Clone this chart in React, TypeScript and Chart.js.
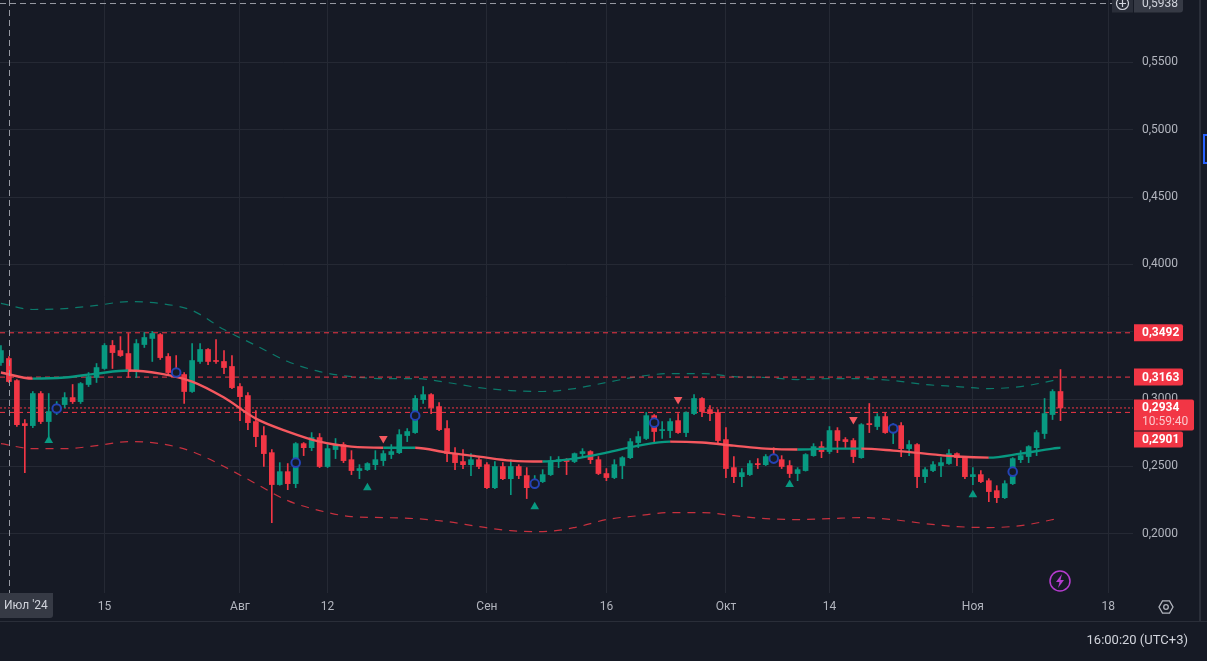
import React, { useEffect, useRef } from 'react';
import { Chart, registerables } from 'chart.js';

Chart.register(...registerables);

// ---------- data ----------
// day index = days since 2024-07-01 ; first candle is 2 Jul 2024
const firstDay = 1;

const opens = [
  // Jul 2..31
  0.3271, 0.3301, 0.3137, 0.2818, 0.2803, 0.3041, 0.2833, 0.2907, 0.2959, 0.3011, 0.2981, 0.3108, 0.3160, 0.3227, 0.3398,
  0.3360, 0.3338, 0.3204, 0.3405, 0.3450, 0.3479, 0.3316, 0.3197, 0.3182, 0.3056, 0.3279, 0.3368, 0.3286, 0.3279, 0.3242,
  // Aug
  0.3093, 0.3026, 0.2833, 0.2729, 0.2602, 0.2365, 0.2461, 0.2372, 0.2669, 0.2639, 0.2714, 0.2499, 0.2625, 0.2662, 0.2550, 0.2469,
  0.2476, 0.2513, 0.2543, 0.2588, 0.2602, 0.2729, 0.2751, 0.2996, 0.3033, 0.2944, 0.2781, 0.2595, 0.2536, 0.2513, 0.2550,
  // Sep
  0.2513, 0.2342, 0.2499, 0.2409, 0.2499, 0.2432, 0.2342, 0.2387, 0.2439, 0.2536, 0.2550, 0.2536, 0.2595, 0.2610, 0.2550,
  0.2447, 0.2417, 0.2506, 0.2565, 0.2677, 0.2707, 0.2877, 0.2766, 0.2766, 0.2840, 0.2751, 0.2892, 0.3004, 0.2922, 0.2900,
  // Oct
  0.2699, 0.2491, 0.2424, 0.2439, 0.2521, 0.2513, 0.2573, 0.2550, 0.2506, 0.2447, 0.2469, 0.2580, 0.2647, 0.2610, 0.2766, 0.2699,
  0.2692, 0.2565, 0.2818, 0.2796, 0.2870, 0.2751, 0.2803, 0.2632, 0.2662, 0.2424, 0.2469, 0.2506, 0.2521, 0.2595, 0.2565,
  // Nov 1..12
  0.2424, 0.2439, 0.2394, 0.2320, 0.2268, 0.2372, 0.2550, 0.2573, 0.2639, 0.2744, 0.2885, 0.3056,
];
const highs = [
  0.3398, 0.3316, 0.3145, 0.2848, 0.3056, 0.3056, 0.3041, 0.2981, 0.3048, 0.3108, 0.3123, 0.3197, 0.3264, 0.3412, 0.3435,
  0.3464, 0.3487, 0.3442, 0.3494, 0.3502, 0.3487, 0.3338, 0.3323, 0.3197, 0.3412, 0.3412, 0.3375, 0.3442, 0.3360, 0.3323,
  0.3115, 0.3048, 0.2915, 0.2796, 0.2625, 0.2528, 0.2521, 0.2677, 0.2677, 0.2751, 0.2744, 0.2669, 0.2707, 0.2677, 0.2617, 0.2513,
  0.2528, 0.2617, 0.2617, 0.2662, 0.2773, 0.2781, 0.3026, 0.3093, 0.3040, 0.2974, 0.2840, 0.2639, 0.2625, 0.2595, 0.2565,
  0.2528, 0.2536, 0.2528, 0.2550, 0.2513, 0.2491, 0.2432, 0.2476, 0.2573, 0.2573, 0.2558, 0.2600, 0.2632, 0.2617, 0.2573,
  0.2484, 0.2550, 0.2573, 0.2707, 0.2759, 0.2900, 0.2885, 0.2833, 0.2855, 0.2892, 0.2905, 0.3033, 0.3011, 0.2952, 0.2922,
  0.2788, 0.2573, 0.2484, 0.2543, 0.2558, 0.2588, 0.2639, 0.2580, 0.2543, 0.2491, 0.2595, 0.2669, 0.2684, 0.2796, 0.2788, 0.2714,
  0.2707, 0.2818, 0.2967, 0.2892, 0.2900, 0.2818, 0.2825, 0.2692, 0.2669, 0.2491, 0.2536, 0.2565, 0.2625, 0.2600, 0.2573,
  0.2491, 0.2469, 0.2409, 0.2357, 0.2394, 0.2565, 0.2617, 0.2654, 0.2766, 0.3004, 0.3070, 0.3219,
];
const lows = [
  0.3249, 0.3123, 0.2796, 0.2454, 0.2788, 0.2818, 0.2721, 0.2885, 0.2937, 0.2967, 0.2967, 0.3093, 0.3123, 0.3220, 0.3227,
  0.3316, 0.3160, 0.3160, 0.3383, 0.3279, 0.3294, 0.3175, 0.3160, 0.2967, 0.3050, 0.3264, 0.3256, 0.3264, 0.3189, 0.3078,
  0.2840, 0.2773, 0.2647, 0.2499, 0.2082, 0.2360, 0.2327, 0.2342, 0.2580, 0.2617, 0.2491, 0.2491, 0.2558, 0.2528, 0.2439, 0.2409,
  0.2469, 0.2476, 0.2506, 0.2558, 0.2595, 0.2684, 0.2745, 0.2967, 0.2892, 0.2766, 0.2536, 0.2476, 0.2484, 0.2432, 0.2484,
  0.2335, 0.2335, 0.2402, 0.2290, 0.2409, 0.2261, 0.2335, 0.2380, 0.2432, 0.2491, 0.2439, 0.2528, 0.2565, 0.2521, 0.2439,
  0.2394, 0.2409, 0.2409, 0.2558, 0.2639, 0.2699, 0.2684, 0.2707, 0.2714, 0.2744, 0.2721, 0.2885, 0.2870, 0.2840, 0.2669,
  0.2417, 0.2380, 0.2350, 0.2432, 0.2484, 0.2506, 0.2528, 0.2484, 0.2417, 0.2394, 0.2465, 0.2575, 0.2565, 0.2595, 0.2602, 0.2639,
  0.2528, 0.2560, 0.2751, 0.2773, 0.2745, 0.2669, 0.2573, 0.2580, 0.2342, 0.2380, 0.2461, 0.2424, 0.2515, 0.2506, 0.2409,
  0.2365, 0.2380, 0.2238, 0.2231, 0.2261, 0.2365, 0.2528, 0.2528, 0.2580, 0.2707, 0.2848, 0.2840,
];
const closes = [
  0.3360, 0.3130, 0.2810, 0.2803, 0.3041, 0.2833, 0.2907, 0.2959, 0.3011, 0.2981, 0.3115, 0.3167, 0.3234, 0.3398, 0.3345,
  0.3323, 0.3204, 0.3412, 0.3457, 0.3487, 0.3308, 0.3197, 0.3182, 0.3056, 0.3286, 0.3368, 0.3279, 0.3279, 0.3234, 0.3085,
  0.3018, 0.2825, 0.2721, 0.2595, 0.2365, 0.2461, 0.2372, 0.2669, 0.2639, 0.2714, 0.2499, 0.2632, 0.2662, 0.2543, 0.2469, 0.2484,
  0.2521, 0.2550, 0.2595, 0.2610, 0.2736, 0.2759, 0.3004, 0.3033, 0.2937, 0.2773, 0.2595, 0.2528, 0.2513, 0.2550, 0.2499,
  0.2342, 0.2499, 0.2409, 0.2499, 0.2432, 0.2342, 0.2387, 0.2439, 0.2543, 0.2550, 0.2536, 0.2595, 0.2610, 0.2550, 0.2447,
  0.2417, 0.2513, 0.2565, 0.2684, 0.2721, 0.2877, 0.2759, 0.2773, 0.2833, 0.2751, 0.2900, 0.3004, 0.2907, 0.2892, 0.2692,
  0.2484, 0.2424, 0.2454, 0.2521, 0.2513, 0.2573, 0.2550, 0.2499, 0.2447, 0.2476, 0.2588, 0.2647, 0.2610, 0.2766, 0.2692, 0.2684,
  0.2573, 0.2810, 0.2810, 0.2870, 0.2751, 0.2803, 0.2632, 0.2662, 0.2424, 0.2476, 0.2513, 0.2528, 0.2595, 0.2565, 0.2424,
  0.2439, 0.2387, 0.2313, 0.2268, 0.2372, 0.2558, 0.2580, 0.2647, 0.2751, 0.2892, 0.3056, 0.2934,
];

// smooth indicator (read at these day indexes)
const curveDays = [1, 5, 9, 13, 17, 21, 25, 29, 33, 37, 41, 45, 49, 53, 57, 61, 65, 69, 73, 77, 81, 85, 89, 93, 97, 101, 105, 109, 113, 117, 121, 125, 129, 133, 134];
const basisValues = [0.3197, 0.3152, 0.3160, 0.3189, 0.3212, 0.3189, 0.3130, 0.3011, 0.2855, 0.2759, 0.2684, 0.2647, 0.2639, 0.2639, 0.2602, 0.2573, 0.2543, 0.2536, 0.2558, 0.2602, 0.2654, 0.2684, 0.2677, 0.2654, 0.2632, 0.2625, 0.2632, 0.2632, 0.2617, 0.2595, 0.2573, 0.2565, 0.2595, 0.2632, 0.2639];
const upperValues = [0.3710, 0.3665, 0.3672, 0.3695, 0.3724, 0.3710, 0.3658, 0.3516, 0.3398, 0.3279, 0.3204, 0.3167, 0.3152, 0.3152, 0.3123, 0.3085, 0.3063, 0.3056, 0.3078, 0.3123, 0.3167, 0.3189, 0.3189, 0.3167, 0.3160, 0.3145, 0.3152, 0.3152, 0.3137, 0.3108, 0.3093, 0.3078, 0.3093, 0.3137, 0.3152];
const lowerValues = [0.2669, 0.2632, 0.2632, 0.2654, 0.2684, 0.2669, 0.2610, 0.2499, 0.2372, 0.2246, 0.2172, 0.2127, 0.2120, 0.2112, 0.2090, 0.2053, 0.2023, 0.2016, 0.2046, 0.2105, 0.2134, 0.2157, 0.2157, 0.2134, 0.2112, 0.2105, 0.2112, 0.2120, 0.2105, 0.2075, 0.2053, 0.2046, 0.2060, 0.2105, 0.2120];

// signal markers
const circleDays = [8, 23, 38, 53, 68, 83, 98, 113, 128];
const circleValues = [0.2930, 0.3197, 0.2528, 0.2877, 0.2372, 0.2825, 0.2558, 0.2781, 0.2461];
const buyDays = [7, 47, 68, 100, 123];
const buyValues = [0.2692, 0.2342, 0.2201, 0.2365, 0.2290];
const sellDays = [49, 86, 108];
const sellValues = [0.2707, 0.2996, 0.2848];

// horizontal levels
const levelValues = [0.3492, 0.3163, 0.2901];
const lastPrice = 0.2934;
const countdownText = '10:59:40';

// crosshair
const crossDay = 2;
const crossPrice = 0.5938;
const crossDateLabel = "Июл '24";
const clockText = '16:00:20 (UTC+3)';

// axes
const xTickDays = [14, 31, 42, 62, 77, 92, 105, 123, 140];
const xTickLabels = ['15', 'Авг', '12', 'Сен', '16', 'Окт', '14', 'Ноя', '18'];
const yTickValues = [0.2, 0.25, 0.3, 0.35, 0.4, 0.45, 0.5, 0.55];
const xRange = [0.883, 143.1];
const yRange = [0.156, 0.5963];

// ---------- styles ----------
const W = 1207;
const H = 661;
const BG = '#161a25';
const GRID = '#252934';
const UP = '#089981';
const DOWN = '#f23645';
const MA_DOWN = '#f5585f';
const TEXT = '#b2b5be';
const FONT = 'Roboto, "Noto Sans", sans-serif';

const fmt = (v: number) => v.toFixed(4).replace('.', ',');

export default function App() {
  const ref = useRef<HTMLCanvasElement>(null);

  useEffect(() => {
    const canvas = ref.current;
    if (!canvas) return;

    const days = opens.map((_, i) => firstDay + i);
    const colors = days.map((_, i) => (closes[i] >= opens[i] ? UP : DOWN));
    const pts = (xs: number[], ys: number[]) => xs.map((x, i) => ({ x, y: ys[i] }));
    const hline = (v: number) => [{ x: xRange[0], y: v }, { x: xRange[1], y: v }];

    const decor = {
      id: 'decor',
      beforeDraw(chart: any) {
        const ctx = chart.ctx;
        ctx.save();
        ctx.fillStyle = BG;
        ctx.fillRect(0, 0, W, H);
        ctx.restore();
      },
      afterDraw(chart: any) {
        const ctx: CanvasRenderingContext2D = chart.ctx;
        const xs = chart.scales.x;
        const ys = chart.scales.y;
        const ca = chart.chartArea;
        ctx.save();

        // crosshair
        const cx = Math.round(xs.getPixelForValue(crossDay)) + 0.5;
        const cy = Math.round(ys.getPixelForValue(crossPrice)) + 0.5;
        ctx.strokeStyle = '#9598a1';
        ctx.lineWidth = 1;
        ctx.setLineDash([6, 4]);
        ctx.beginPath();
        ctx.moveTo(cx, ca.top);
        ctx.lineTo(cx, ca.bottom);
        ctx.moveTo(ca.left, cy);
        ctx.lineTo(ca.right - 21, cy);
        ctx.stroke();
        ctx.setLineDash([]);

        ctx.textBaseline = 'middle';
        ctx.textAlign = 'left';

        // crosshair price label
        ctx.fillStyle = '#2a2e39';
        ctx.fillRect(ca.right - 21, cy - 9, 21, 18);
        ctx.strokeStyle = '#d1d4dc';
        ctx.lineWidth = 1.2;
        ctx.beginPath();
        ctx.arc(ca.right - 10.5, cy, 6, 0, Math.PI * 2);
        ctx.moveTo(ca.right - 14, cy);
        ctx.lineTo(ca.right - 7, cy);
        ctx.moveTo(ca.right - 10.5, cy - 3.5);
        ctx.lineTo(ca.right - 10.5, cy + 3.5);
        ctx.stroke();
        ctx.fillStyle = '#363a45';
        ctx.beginPath();
        (ctx as any).roundRect(ca.right + 1, cy - 9, 49, 18, [0, 3, 3, 0]);
        ctx.fill();
        ctx.fillStyle = '#d1d4dc';
        ctx.font = `12px ${FONT}`;
        ctx.fillText(fmt(crossPrice), ca.right + 9, cy + 0.5);

        // red price boxes
        const box = (top: number, h: number, w: number) => {
          ctx.fillStyle = DOWN;
          ctx.beginPath();
          (ctx as any).roundRect(ca.right + 1, top, w, h, [0, 2, 2, 0]);
          ctx.fill();
        };
        ctx.font = `bold 12px ${FONT}`;
        const yA = ys.getPixelForValue(levelValues[0]);
        box(yA - 8.5, 17, 49);
        ctx.fillStyle = '#ffffff';
        ctx.fillText(fmt(levelValues[0]), ca.right + 9, yA + 0.5);
        const yB = ys.getPixelForValue(levelValues[1]);
        box(yB - 8.5, 17, 49);
        ctx.fillStyle = '#ffffff';
        ctx.fillText(fmt(levelValues[1]), ca.right + 9, yB + 0.5);
        const yL = ys.getPixelForValue(lastPrice);
        const lastTop = yL - 8.5;
        box(lastTop, 31, 60);
        ctx.fillStyle = '#ffffff';
        ctx.fillText(fmt(lastPrice), ca.right + 9, yL + 0.5);
        ctx.fillStyle = 'rgba(255,255,255,0.72)';
        ctx.font = `12px ${FONT}`;
        ctx.fillText(countdownText, ca.right + 9, yL + 14.5);
        const yC = ys.getPixelForValue(levelValues[2]);
        const cTop = Math.max(yC - 8.5, lastTop + 32);
        box(cTop, 16, 49);
        ctx.fillStyle = '#ffffff';
        ctx.font = `bold 12px ${FONT}`;
        ctx.fillText(fmt(levelValues[2]), ca.right + 9, cTop + 8.5);

        // crosshair date label
        ctx.fillStyle = '#363a45';
        ctx.beginPath();
        (ctx as any).roundRect(0, ca.bottom, 53, 25, [0, 0, 3, 0]);
        ctx.fill();
        ctx.fillStyle = '#d1d4dc';
        ctx.font = `12px ${FONT}`;
        ctx.fillText(crossDateLabel, 4, ca.bottom + 13);

        // footer divider & clock
        ctx.fillStyle = '#2a2e39';
        ctx.fillRect(0, 621, W, 1);
        ctx.fillRect(1199, 0, 2, 621);
        ctx.fillStyle = '#d1d4dc';
        ctx.font = `13px ${FONT}`;
        ctx.textAlign = 'right';
        ctx.fillText(clockText, 1188, 641);

        // settings icon (hexagon)
        ctx.strokeStyle = TEXT;
        ctx.lineWidth = 1.3;
        ctx.beginPath();
        for (let k = 0; k < 6; k++) {
          const a = (Math.PI / 3) * k;
          const px = 1166 + 7 * Math.cos(a);
          const py = 607 + 7 * Math.sin(a);
          if (k === 0) ctx.moveTo(px, py);
          else ctx.lineTo(px, py);
        }
        ctx.closePath();
        ctx.stroke();
        ctx.beginPath();
        ctx.arc(1166, 607, 2.3, 0, Math.PI * 2);
        ctx.stroke();

        // lightning icon
        ctx.strokeStyle = '#b53ccf';
        ctx.fillStyle = '#b53ccf';
        ctx.lineWidth = 1.5;
        ctx.beginPath();
        ctx.arc(1060, 581, 10, 0, Math.PI * 2);
        ctx.stroke();
        ctx.beginPath();
        ctx.moveTo(1062, 574);
        ctx.lineTo(1056, 582);
        ctx.lineTo(1059.5, 582);
        ctx.lineTo(1058, 588);
        ctx.lineTo(1064, 580);
        ctx.lineTo(1060.5, 580);
        ctx.closePath();
        ctx.fill();

        // right side strip marker
        ctx.strokeStyle = '#2962ff';
        ctx.lineWidth = 2;
        ctx.strokeRect(1204, 135, 6, 28);

        ctx.restore();
      },
    };

    const chart = new Chart(canvas, {
      type: 'bar',
      data: {
        datasets: [
          {
            type: 'scatter',
            data: pts(circleDays, circleValues),
            pointStyle: 'circle',
            pointRadius: 4.3,
            pointBorderWidth: 2,
            pointBorderColor: '#2443b5',
            pointBackgroundColor: BG,
            order: 0,
          } as any,
          {
            type: 'scatter',
            data: pts(buyDays, buyValues),
            pointStyle: 'triangle',
            pointRadius: 5,
            pointBorderWidth: 0,
            pointBackgroundColor: UP,
            order: 0,
          } as any,
          {
            type: 'scatter',
            data: pts(sellDays, sellValues),
            pointStyle: 'triangle',
            rotation: 180,
            pointRadius: 5,
            pointBorderWidth: 0,
            pointBackgroundColor: MA_DOWN,
            order: 0,
          } as any,
          {
            type: 'line',
            data: pts(curveDays, basisValues),
            borderWidth: 2.4,
            borderColor: MA_DOWN,
            segment: {
              borderColor: (c: any) => (c.p1.parsed.y >= c.p0.parsed.y ? UP : MA_DOWN),
            },
            pointRadius: 0,
            cubicInterpolationMode: 'monotone',
            order: 1,
          } as any,
          {
            data: days.map((d, i) => ({ x: d, y: [opens[i], closes[i]] })),
            backgroundColor: colors,
            barThickness: 5,
            minBarLength: 1,
            grouped: false,
            borderWidth: 0,
            order: 2,
          } as any,
          {
            data: days.map((d, i) => ({ x: d, y: [lows[i], highs[i]] })),
            backgroundColor: colors,
            barThickness: 1,
            grouped: false,
            borderWidth: 0,
            order: 3,
          } as any,
          {
            type: 'line',
            data: hline(lastPrice),
            borderColor: DOWN,
            borderWidth: 1,
            borderDash: [2, 2],
            pointRadius: 0,
            order: 4,
          } as any,
          ...levelValues.map((v) => ({
            type: 'line',
            data: hline(v),
            borderColor: DOWN,
            borderWidth: 1,
            borderDash: [5, 4],
            pointRadius: 0,
            order: 4,
          })) as any[],
          {
            type: 'line',
            data: pts(curveDays, upperValues),
            borderColor: 'rgba(8,153,129,0.75)',
            borderWidth: 1.2,
            borderDash: [8, 7],
            pointRadius: 0,
            cubicInterpolationMode: 'monotone',
            order: 5,
          } as any,
          {
            type: 'line',
            data: pts(curveDays, lowerValues),
            borderColor: 'rgba(242,54,69,0.8)',
            borderWidth: 1.2,
            borderDash: [8, 7],
            pointRadius: 0,
            cubicInterpolationMode: 'monotone',
            order: 5,
          } as any,
        ],
      },
      options: {
        responsive: false,
        animation: false,
        events: [],
        layout: { padding: { left: 0, top: 0, right: 0, bottom: 40 }, autoPadding: false } as any,
        plugins: { legend: { display: false }, tooltip: { enabled: false } },
        scales: {
          x: {
            type: 'linear',
            position: 'bottom',
            min: xRange[0],
            max: xRange[1],
            offset: false,
            grid: { color: GRID, drawTicks: false, lineWidth: 1, offset: false },
            border: { display: false },
            ticks: {
              autoSkip: false,
              maxRotation: 0,
              padding: 7,
              color: TEXT,
              font: { family: FONT, size: 12 },
              callback: (v: any) => {
                const k = xTickDays.indexOf(Number(v));
                return k >= 0 ? xTickLabels[k] : '';
              },
            },
            afterBuildTicks: (s: any) => {
              s.ticks = xTickDays.map((v) => ({ value: v }));
            },
            afterFit: (s: any) => {
              s.height = 28;
              s.paddingLeft = 0;
              s.paddingRight = 0;
            },
          },
          y: {
            type: 'linear',
            position: 'right',
            min: yRange[0],
            max: yRange[1],
            grid: { color: GRID, drawTicks: false, lineWidth: 1 },
            border: { display: false },
            ticks: {
              padding: 9,
              color: TEXT,
              font: { family: FONT, size: 12 },
              callback: (v: any) => fmt(Number(v)),
            },
            afterBuildTicks: (s: any) => {
              s.ticks = yTickValues.map((v) => ({ value: v }));
            },
            afterFit: (s: any) => {
              s.width = 74;
              s.paddingTop = 0;
              s.paddingBottom = 0;
            },
          },
        },
      } as any,
      plugins: [decor],
    });

    return () => chart.destroy();
  }, []);

  return (
    <div style={{ position: 'fixed', left: 0, top: 0, width: W, height: H, background: BG, overflow: 'hidden' }}>
      <canvas ref={ref} width={W} height={H} style={{ display: 'block', width: W, height: H }} />
    </div>
  );
}
